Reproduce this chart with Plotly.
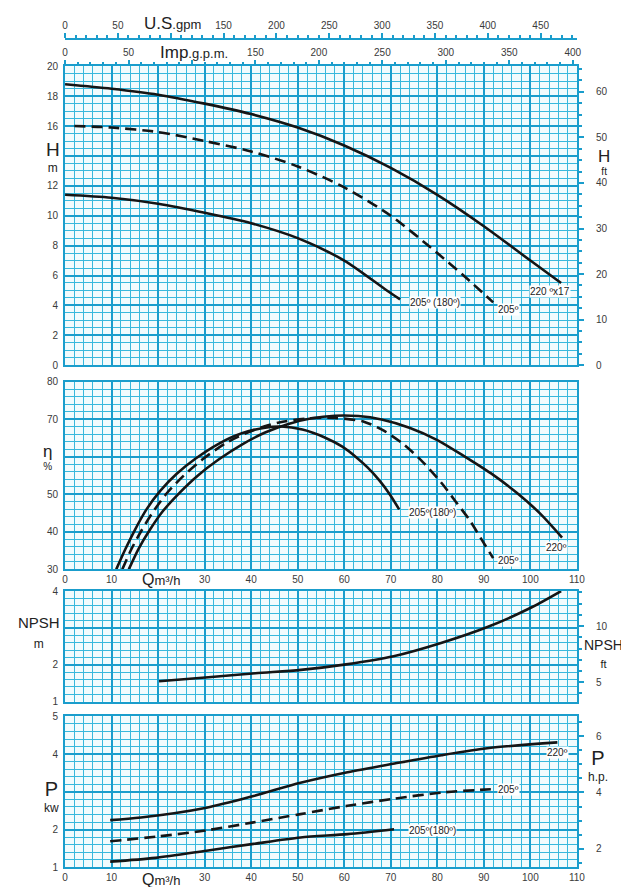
import plotly.graph_objects as go

# ---------------- data ----------------
# Head H (m) vs Q (m3/h)
Q_H_220 = [0, 10, 20, 30, 40, 50, 60, 70, 80, 90, 100, 106.6]
H_220 = [18.8, 18.5, 18.1, 17.5, 16.8, 15.9, 14.7, 13.2, 11.4, 9.3, 7.0, 5.5]
Q_H_205 = [2, 10, 20, 30, 40, 50, 60, 70, 80, 86, 92]
H_205 = [16.0, 15.9, 15.6, 15.0, 14.3, 13.3, 11.9, 10.0, 7.5, 5.9, 4.2]
Q_H_180 = [0, 10, 20, 30, 40, 50, 60, 68.7, 72]
H_180 = [11.4, 11.2, 10.8, 10.2, 9.5, 8.5, 7.0, 5.1, 4.4]

# Efficiency (%)
Q_E_220 = [13.7, 15.8, 18.2, 21, 24.5, 28.5, 33, 38, 43, 48, 53, 58, 63, 68, 74, 80, 86, 92, 97, 102, 106.8]
E_220 = [30, 35.5, 40.5, 45.5, 50.3, 55, 59.3, 63.3, 66.5, 68.8, 70.3, 71.0, 70.9, 70.0, 67.8, 64.5, 60, 55.2, 50.5, 45, 38.5]
Q_E_205 = [12.3, 14.3, 16.5, 19, 22, 25.5, 29.7, 35, 40.6, 46, 52.4, 58, 64.2, 68.5, 72.6, 77, 81, 84, 86.9, 89.5, 92]
E_205 = [30, 35.5, 40.5, 45.5, 50.5, 55, 59.5, 64, 67.2, 69.2, 70.3, 70.4, 69.4, 67, 63.5, 58.5, 52.9, 48, 43.2, 38, 33]
Q_E_180 = [11, 13, 15, 17.5, 20.5, 24, 28, 33, 38, 43, 46.5, 51, 55.8, 59.5, 62.5, 65, 67.5, 69.8, 71.8]
E_180 = [30, 35.5, 40.5, 46, 51, 55.5, 59.5, 63.5, 66.3, 67.8, 68.1, 67.3, 65.2, 62.8, 60, 57.2, 53.8, 50, 46]

# NPSH (m)
Q_N = [20.2, 30.8, 40.9, 50.7, 60.4, 70.6, 80.8, 90.9, 100.3, 106.6]
NPSH = [1.55, 1.66, 1.77, 1.86, 2.01, 2.23, 2.59, 3.03, 3.56, 4.0]

# Power (kW)
Q_P_220 = [9.7, 16.3, 30.4, 40.5, 50.6, 60.7, 70.8, 80.9, 91.1, 105.8]
P_220 = [2.25, 2.32, 2.58, 2.89, 3.24, 3.52, 3.75, 3.97, 4.16, 4.31]
Q_P_205 = [9.7, 20.2, 30.4, 40.5, 50.6, 60.7, 70.8, 80.9, 91.5]
P_205 = [1.69, 1.82, 1.98, 2.19, 2.41, 2.63, 2.82, 2.98, 3.07]
Q_P_180 = [9.7, 19.4, 30.4, 40.5, 50.6, 60.7, 70.7]
P_180 = [1.15, 1.25, 1.44, 1.62, 1.79, 1.88, 2.01]

Q_TICKS = list(range(0, 111, 10))
H_TICKS = list(range(0, 21, 2))
E_TICKS = list(range(30, 81, 10))
N_TICKS = [1, 2, 3, 4]
P_TICKS = [1, 2, 3, 4, 5]
US_TICKS = list(range(0, 451, 50))
IMP_TICKS = list(range(0, 401, 50))
HFT_TICKS = list(range(0, 61, 10))
NFT_TICKS = [5, 10]
HP_TICKS = [2, 4, 6]

LBL_220_H = "220 ºx17"
LBL_205 = "205º"
LBL_180_H = "205º (180º)"
LBL_180 = "205º(180º)"
LBL_220 = "220º"

# unit conversions
M3H_TO_USGPM = 4.4029
M3H_TO_IMPGPM = 3.6662
M_TO_FT = 3.28084
KW_TO_HP = 1.34102

# ---------------- layout helpers ----------------
W, HGT = 629, 887


def px(v):
    return v / W


def py(v):
    return 1 - v / HGT


XD = [px(55), px(576)]
D1 = [py(356), py(53)]
D2 = [py(563), py(373)]
D3 = [py(697), py(585)]
D4 = [py(865), py(712)]

FONT = "Liberation Sans, Arial, sans-serif"
GRID_MAJOR = "#1a9dcc"
GRID_MINOR = "#38b8dc"
BG = "#f1fbfd"
TICKFONT = dict(family=FONT, size=10, color="#3a3a3a")
INK = "#151515"

fig = go.Figure()


def add(xs, ys, xa, ya, dash="solid"):
    fig.add_trace(go.Scatter(
        x=xs, y=ys, xaxis=xa, yaxis=ya, mode="lines",
        line=dict(color=INK, width=2.6, shape="spline", smoothing=0.8, dash=dash),
        showlegend=False, hoverinfo="skip"))


def dummy(xa, ya, x, y):
    fig.add_trace(go.Scatter(x=[x], y=[y], xaxis=xa, yaxis=ya, mode="markers",
                             marker=dict(opacity=0), showlegend=False, hoverinfo="skip"))


DASH = "11px,6px"

add(Q_H_220, H_220, "x", "y")
add(Q_H_205, H_205, "x", "y", DASH)
add(Q_H_180, H_180, "x", "y")

add(Q_E_220, E_220, "x2", "y2")
add(Q_E_205, E_205, "x2", "y2", DASH)
add(Q_E_180, E_180, "x2", "y2")

add(Q_N, NPSH, "x3", "y3")

add(Q_P_220, P_220, "x4", "y4")
add(Q_P_205, P_205, "x4", "y4", DASH)
add(Q_P_180, P_180, "x4", "y4")

# invisible traces so the secondary axes are drawn
dummy("x5", "y", 0, 0)
dummy("x6", "y", 0, 0)
dummy("x", "y5", 0, 0)
dummy("x3", "y6", 0, 5)
dummy("x4", "y7", 0, 2)


def xgrid(anchor, labels):
    return dict(
        domain=XD, range=[0, 110], anchor=anchor,
        tickmode="array", tickvals=Q_TICKS,
        ticktext=["" if v == 20 else str(v) for v in Q_TICKS],
        showticklabels=labels, ticks="", tickfont=TICKFONT,
        showgrid=True, gridcolor=GRID_MAJOR, gridwidth=1.6,
        minor=dict(tickmode="linear", tick0=0, dtick=2, showgrid=True,
                   gridcolor=GRID_MINOR, gridwidth=1),
        showline=True, linecolor=GRID_MAJOR, linewidth=2, mirror=True,
        zeroline=False, fixedrange=True)


def ygrid(domain, rng, tickvals, ticktext, minor, anchor):
    return dict(
        domain=domain, range=rng, anchor=anchor,
        tickmode="array", tickvals=tickvals, ticktext=ticktext,
        ticks="", tickfont=TICKFONT, ticklabelstandoff=3,
        showgrid=True, gridcolor=GRID_MAJOR, gridwidth=1.6,
        minor=dict(tickmode="linear", tick0=rng[0], dtick=minor, showgrid=True,
                   gridcolor=GRID_MINOR, gridwidth=1),
        showline=True, linecolor=GRID_MAJOR, linewidth=2, mirror=True,
        zeroline=False, fixedrange=True)


def yright(over, anchor, rng, tickvals, minor):
    return dict(
        overlaying=over, side="right", anchor=anchor, range=rng,
        tickmode="array", tickvals=tickvals, ticktext=[str(v) for v in tickvals],
        ticks="outside", ticklen=6, tickwidth=1.5, tickcolor=GRID_MAJOR, tickfont=TICKFONT,
        ticklabelstandoff=10,
        minor=dict(tickmode="linear", tick0=0, dtick=minor, ticks="outside", ticklen=4,
                   tickcolor=GRID_MAJOR, showgrid=False),
        showgrid=False, showline=False, zeroline=False, fixedrange=True)


def xtop(anchor, rng, tickvals, hidden, **kw):
    d = dict(
        overlaying="x", side="top", anchor=anchor, range=rng,
        tickmode="array", tickvals=tickvals,
        ticktext=["" if v == hidden else str(v) for v in tickvals],
        ticks="outside", ticklen=5, tickwidth=1.5, tickcolor=GRID_MAJOR, tickfont=TICKFONT,
        minor=dict(tickmode="linear", tick0=0, dtick=10, ticks="outside", ticklen=3,
                   tickcolor=GRID_MAJOR, showgrid=False),
        showgrid=False, showline=False, zeroline=False, fixedrange=True)
    d.update(kw)
    return d


fig.update_layout(
    width=W, height=HGT, margin=dict(l=0, r=0, t=0, b=0),
    paper_bgcolor="white", plot_bgcolor=BG, showlegend=False,
    xaxis=xgrid("y", False),
    xaxis2=xgrid("y2", True),
    xaxis3=xgrid("y3", False),
    xaxis4=xgrid("y4", True),
    yaxis=ygrid(D1, [0, 20], H_TICKS, ["" if v == 14 else str(v) for v in H_TICKS], 0.5, "x"),
    yaxis2=ygrid(D2, [30, 80], E_TICKS, ["" if v == 60 else str(v) for v in E_TICKS], 2, "x2"),
    yaxis3=ygrid(D3, [1, 4], N_TICKS, ["" if v == 3 else str(v) for v in N_TICKS], 0.2, "x3"),
    yaxis4=ygrid(D4, [1, 5], P_TICKS, ["" if v == 3 else str(v) for v in P_TICKS], 0.2, "x4"),
    yaxis5=yright("y", "x", [0, 20 * M_TO_FT], HFT_TICKS, 2.5),
    yaxis6=yright("y3", "x3", [1 * M_TO_FT, 4 * M_TO_FT], NFT_TICKS, 1),
    yaxis7=yright("y4", "x4", [1 * KW_TO_HP, 5 * KW_TO_HP], HP_TICKS, 0.5),
    xaxis5=xtop("y", [0, 110 * M3H_TO_IMPGPM], IMP_TICKS, 100),
    xaxis6=xtop("free", [0, 110 * M3H_TO_USGPM], US_TICKS, 100, position=py(25),
                showline=True, linecolor=GRID_MAJOR, linewidth=2),
)


def ann(text, xp, yp, size):
    fig.add_annotation(text=text, x=px(xp), y=py(yp), xref="paper", yref="paper",
                       showarrow=False, xanchor="center", yanchor="middle",
                       font=dict(family=FONT, size=size, color="#222"))


def lbl(text, x, y, xa, ya, xanchor="center"):
    fig.add_annotation(text=text, x=x, y=y, xref=xa, yref=ya, showarrow=False,
                       xanchor=xanchor, yanchor="middle", bgcolor="white", borderpad=0,
                       font=dict(family=FONT, size=10, color="#222"))


# axis titles (two-line titles kept in one text block)
ann("<span style='font-size:17px'>U.S</span>.gpm", 164, 10, 13)
ann("<span style='font-size:17px'>Imp</span>.g.p.m.", 186, 39, 13)
ann("<span style='font-size:19px'>H</span><br>m", 43, 145, 12)
ann("<span style='font-size:17px'>H</span><br>ft", 604, 150, 10)
ann("<span style='font-size:17px'>η</span><br>%", 37, 449, 10)
ann("NPSH<br><span style='font-size:12px'>m</span>", 28, 627, 15)
ann("NPSH<br><span style='font-size:11px'>ft</span>", 603, 648, 14)
ann("<span style='font-size:20px'>P</span><br>kw", 41, 793, 12)
ann("<span style='font-size:20px'>P</span><br>h.p.", 597, 762, 12)
ann("<span style='font-size:16px'>Q</span>m³/h", 153, 573, 13)
ann("<span style='font-size:16px'>Q</span>m³/h", 153, 877, 13)

# curve labels
lbl(LBL_180_H, 79.5, 4.2, "x", "y")
lbl(LBL_205, 95.4, 3.7, "x", "y")
lbl(LBL_220_H, 104.3, 4.9, "x", "y")
lbl(LBL_180, 79, 45.3, "x2", "y2")
lbl(LBL_205, 95.3, 32.4, "x2", "y2")
lbl(LBL_220, 105.7, 35.9, "x2", "y2")
lbl(LBL_220, 105.9, 4.03, "x4", "y4")
lbl(LBL_205, 95.3, 3.07, "x4", "y4")
lbl(LBL_180, 79, 1.97, "x4", "y4")

fig.write_html("out.html")
